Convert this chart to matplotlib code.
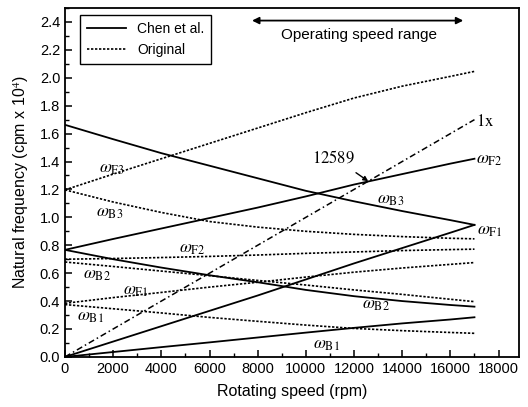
import matplotlib
matplotlib.use("Agg")
import matplotlib.pyplot as plt
import matplotlib.ticker as ticker

plt.rcParams['font.family'] = ['Liberation Sans', 'DejaVu Sans']
plt.rcParams['mathtext.fontset'] = 'stix'

speed = [0, 2000, 4000, 6000, 8000, 10000, 12000, 14000, 16000, 17000]

# Chen et al. (solid), natural frequency in cpm x 1e4
chen_B3 = [1.663, 1.56, 1.46, 1.37, 1.28, 1.19, 1.115, 1.045, 0.98, 0.946]
chen_F2 = [0.767, 0.845, 0.92, 0.995, 1.07, 1.15, 1.235, 1.31, 1.385, 1.42]
chen_B2 = [0.767, 0.70, 0.64, 0.585, 0.535, 0.48, 0.435, 0.40, 0.372, 0.36]
chen_F1 = [0.0, 0.11, 0.22, 0.33, 0.44, 0.555, 0.67, 0.78, 0.89, 0.946]
chen_B1 = [0.0, 0.035, 0.07, 0.104, 0.139, 0.174, 0.208, 0.24, 0.268, 0.284]

# Original (dotted)
orig_F3 = [1.197, 1.31, 1.42, 1.53, 1.64, 1.75, 1.855, 1.94, 2.01, 2.046]
orig_B3 = [1.197, 1.11, 1.035, 0.97, 0.93, 0.90, 0.878, 0.862, 0.85, 0.846]
orig_F2 = [0.70, 0.705, 0.712, 0.72, 0.73, 0.742, 0.752, 0.762, 0.769, 0.772]
orig_B2 = [0.68, 0.648, 0.615, 0.582, 0.548, 0.515, 0.48, 0.448, 0.413, 0.396]
orig_F1 = [0.384, 0.425, 0.462, 0.50, 0.535, 0.572, 0.607, 0.637, 0.663, 0.676]
orig_B1 = [0.375, 0.345, 0.315, 0.283, 0.255, 0.228, 0.204, 0.188, 0.175, 0.169]

# 1x excitation line
onex_speed = [0, 17000]
onex_freq = [0.0, 1.7]

crossing_speed = 12589
crossing_freq = 1.259

fig = plt.figure(figsize=(5.28, 4.07), dpi=100)
ax = fig.add_axes([0.1231, 0.1231, 0.8599, 0.8572])

solid = dict(color='black', lw=1.3, ls='-')
dotted = dict(color='black', lw=1.2, ls=(0, (1.4, 1.0)))

first = True
for vals in [chen_B3, chen_F2, chen_B2, chen_F1, chen_B1]:
    ax.plot(speed, vals, label='Chen et al.' if first else None, **solid)
    first = False
first = True
for vals in [orig_F3, orig_B3, orig_F2, orig_B2, orig_F1, orig_B1]:
    ax.plot(speed, vals, label='Original' if first else None, **dotted)
    first = False
ax.plot(onex_speed, onex_freq, color='black', lw=1.1, ls=(0, (4, 2, 1, 2)))

ax.set_xlim(0, 18850)
ax.set_ylim(0, 2.5)
ax.xaxis.set_major_locator(ticker.MultipleLocator(2000))
ax.xaxis.set_minor_locator(ticker.MultipleLocator(1000))
ax.yaxis.set_major_locator(ticker.MultipleLocator(0.2))
ax.yaxis.set_minor_locator(ticker.MultipleLocator(0.1))
ax.yaxis.set_major_formatter(ticker.FormatStrFormatter('%.1f'))
ax.tick_params(which='both', direction='in', top=False, right=False, labelsize=10.5)
ax.tick_params(which='major', length=5, width=1.1)
ax.tick_params(which='minor', length=3, width=1.0)
for s in ax.spines.values():
    s.set_linewidth(1.3)

ax.set_xlabel('Rotating speed (rpm)', fontsize=11.5, labelpad=6)
ax.set_ylabel('Natural frequency (cpm x 10$^4$)', fontsize=11.5, labelpad=6)

leg = ax.legend(loc='upper left', bbox_to_anchor=(0.033, 0.98), borderaxespad=0,
                fancybox=False, edgecolor='black', fontsize=10, handlelength=2.8,
                framealpha=1, borderpad=0.5)
leg.get_frame().set_linewidth(1.0)

# operating speed range arrow
ax.annotate('', xy=(7650, 2.41), xytext=(16650, 2.41),
            arrowprops=dict(arrowstyle='<|-|>', color='black', lw=1.3,
                            mutation_scale=10))
ax.text(12200, 2.31, 'Operating speed range', fontsize=11, ha='center', va='center')

serif = dict(fontsize=12.5, ha='center', va='center')
labels = [
    (1945, 1.34, r'$\omega_{\rm F3}$'),
    (1862, 1.03, r'$\omega_{\rm B3}$'),
    (5296, 0.767, r'$\omega_{\rm F2}$'),
    (1324, 0.58, r'$\omega_{\rm B2}$'),
    (2937, 0.47, r'$\omega_{\rm F1}$'),
    (1076, 0.28, r'$\omega_{\rm B1}$'),
    (10840, 0.085, r'$\omega_{\rm B1}$'),
    (12909, 0.365, r'$\omega_{\rm B2}$'),
    (13529, 1.12, r'$\omega_{\rm B3}$'),
    (17650, 0.90, r'$\omega_{\rm F1}$'),
    (17600, 1.405, r'$\omega_{\rm F2}$'),
]
for x, y, t in labels:
    ax.text(x, y, t, **serif)
ax.text(17460, 1.69, r'$\mathrm{1x}$', fontsize=12, ha='center', va='center')

ax.annotate(r'$\mathrm{12589}$', xy=(crossing_speed, crossing_freq),
            xytext=(11130, 1.434), fontsize=12, ha='center', va='center',
            arrowprops=dict(arrowstyle='-|>', color='black', lw=1.0,
                            mutation_scale=7, shrinkA=6, shrinkB=0))

fig.savefig('out.png', dpi=100)
